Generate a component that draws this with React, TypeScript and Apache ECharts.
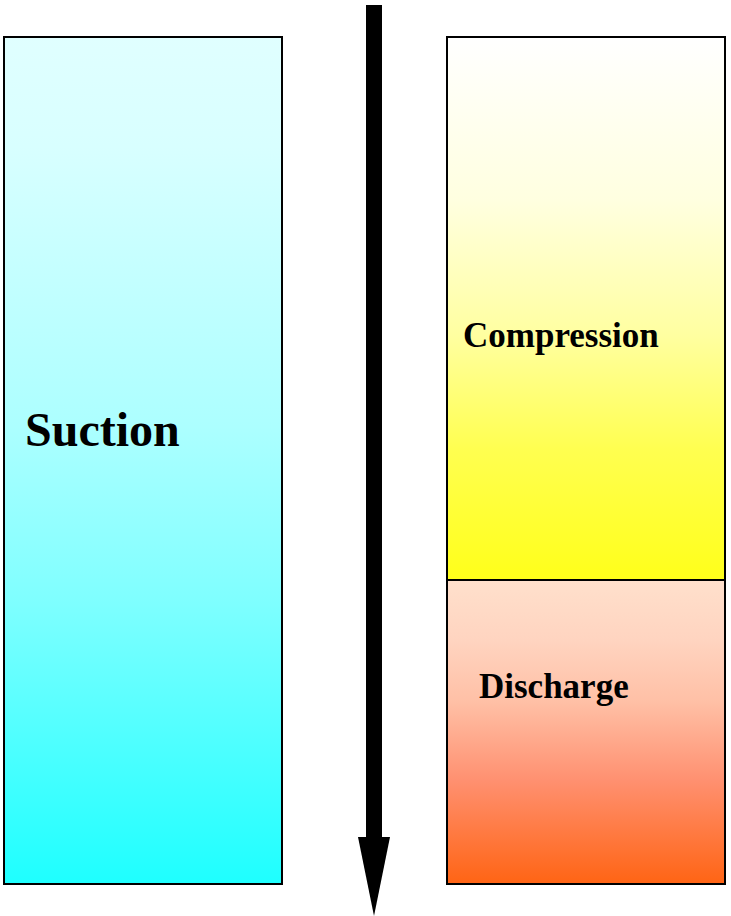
import React, { useEffect, useRef } from "react";
import * as echarts from "echarts";

// Columns of the diagram (hidden category axis)
const columns = ["Intake", "Cylinder"];

// Stroke phases: column index, start and end of the stroke (percent of stroke, top → bottom)
const phaseNames = ["Suction", "Compression", "Discharge"];
const phaseColumn = [0, 1, 1];
const phaseStart = [0, 0, 64.1];
const phaseEnd = [100, 64.1, 100];

// Gradient fills (colour stops, top → bottom)
const phaseGradients: [number, string][][] = [
  [[0, "#e0ffff"], [0.13, "#d8ffff"], [0.46, "#acffff"], [0.66, "#80ffff"], [1, "#1effff"]],
  [[0, "#ffffff"], [0.3, "#ffffe0"], [0.55, "#ffffa0"], [0.76, "#ffff50"], [1, "#ffff1a"]],
  [[0, "#ffe0cc"], [0.2, "#ffd4c0"], [0.4, "#ffc0a6"], [0.66, "#ff9070"], [1, "#ff6414"]],
];

// Label layout: left offset inside the block, vertical fraction of block, font size
const LABEL_LAYOUT: Record<string, { dx: number; fy: number; size: number }> = {
  Suction: { dx: 21, fy: 0.463, size: 48 },
  Compression: { dx: 16, fy: 0.549, size: 35 },
  Discharge: { dx: 32, fy: 0.35, size: 35 },
};

const BLOCK_RATIO = 278 / 360.5;

export default function App() {
  const ref = useRef<HTMLDivElement>(null);

  useEffect(() => {
    if (!ref.current) return;
    const chart = echarts.init(ref.current, undefined, { renderer: "svg" });

    const data = phaseNames.map((name, i) => ({
      name,
      value: [phaseColumn[i], phaseStart[i], phaseEnd[i], i],
    }));

    const renderItem = (params: any, api: any) => {
      const col = api.value(0);
      const s = api.value(1);
      const e = api.value(2);
      const idx = api.value(3);
      const p0 = api.coord([col, s]);
      const p1 = api.coord([col, e]);
      const band = api.size([1, 0])[0];
      const w = band * BLOCK_RATIO;
      const x = col === 0 ? p0[0] - band / 2 : p0[0] + band / 2 - w;
      const y = p0[1];
      const h = p1[1] - p0[1];
      const name = phaseNames[idx];
      const lay = LABEL_LAYOUT[name];
      return {
        type: "group",
        children: [
          {
            type: "rect",
            shape: { x, y, width: w, height: h },
            style: {
              fill: {
                type: "linear",
                x: 0,
                y: 0,
                x2: 0,
                y2: 1,
                colorStops: phaseGradients[idx].map(([offset, color]) => ({ offset, color })),
              },
              stroke: "#000",
              lineWidth: 2,
            },
          },
          {
            type: "text",
            x: x + lay.dx,
            y: y + h * lay.fy,
            style: {
              text: name,
              fill: "#000",
              font: `bold ${lay.size}px "Liberation Serif", "Times New Roman", serif`,
              align: "left",
              verticalAlign: "middle",
            },
          },
        ],
      };
    };

    chart.setOption({
      animation: false,
      backgroundColor: "#ffffff",
      grid: { left: 4, right: 6, top: 37, bottom: 32 },
      xAxis: {
        type: "category",
        data: columns,
        show: false,
        boundaryGap: true,
      },
      yAxis: {
        type: "value",
        min: 0,
        max: 100,
        inverse: true,
        show: false,
      },
      series: [
        {
          type: "custom",
          renderItem,
          data,
          encode: { x: 0, y: [1, 2] },
          silent: true,
        },
      ],
      graphic: [
        {
          type: "rect",
          shape: { x: 366, y: 5, width: 16, height: 834 },
          style: { fill: "#000" },
          silent: true,
        },
        {
          type: "polygon",
          shape: { points: [[358, 837], [390, 837], [374, 916]] },
          style: { fill: "#000" },
          silent: true,
        },
      ],
    });

    return () => chart.dispose();
  }, []);

  return (
    <div
      ref={ref}
      style={{ position: "absolute", left: 0, top: 0, width: 731, height: 916 }}
    />
  );
}
